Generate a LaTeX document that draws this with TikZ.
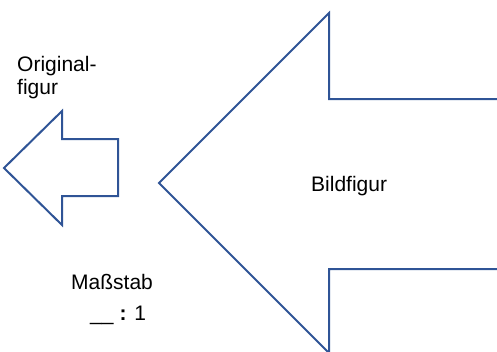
\documentclass[tikz,border=0pt]{standalone}
\usepackage{fontspec}
\setmainfont{Liberation Sans}
\definecolor{arrowblue}{RGB}{47,84,150}
\tikzset{
  arrowshape/.style={draw=arrowblue, line width=2pt, line join=miter},
  lbl/.style={inner sep=0pt, font=\fontsize{21}{23}\selectfont, align=left}
}
\begin{document}
\begin{tikzpicture}[x=1pt,y=-1pt]
\useasboundingbox (0,0) rectangle (497,351);
\begin{scope}
\clip (0,0) rectangle (497,351);
\draw[arrowshape] (4,168) -- (62,111) -- (62,139) -- (118,139) -- (118,196) -- (62,196) -- (62,225) -- cycle;
\draw[arrowshape] (159,183) -- (329,13) -- (329,99) -- (520,99) -- (520,269) -- (329,269) -- (329,353) -- cycle;
\end{scope}
\node[lbl, anchor=base west] (orig) at (17,94) {Original-\\figur};
\node[lbl, anchor=base west] (bild) at (311,191) {Bildfigur};
\node[lbl, anchor=base west] (mass) at (71,289) {Maßstab};
\node[lbl, anchor=base west] (scale) at (90,320) {\_\_ \textbf{:} 1};
\end{tikzpicture}
\end{document}
